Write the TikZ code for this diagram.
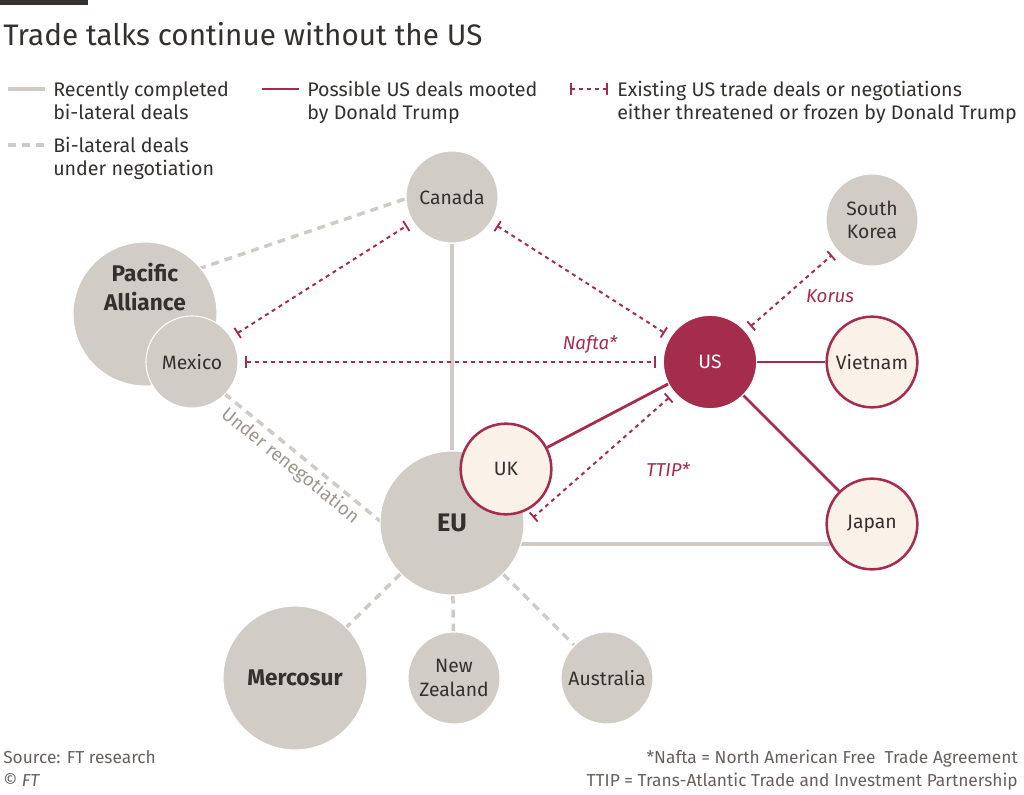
\documentclass[tikz,border=0pt]{standalone}
\usepackage{fontspec}
\setmainfont{Fira Sans}
\usetikzlibrary{arrows.meta,backgrounds,calc}
\definecolor{ink}{HTML}{33302E}
\definecolor{cgray}{HTML}{D1CCC6}
\definecolor{lgray}{HTML}{CFCAC4}
\definecolor{claret}{HTML}{A42D4E}
\definecolor{cream}{HTML}{FAF1E9}
\definecolor{muted}{HTML}{9E968E}
\definecolor{foot}{HTML}{66605C}
\tikzset{
  country/.style={circle, fill=cgray, draw=white, line width=0.8pt, minimum size=69pt,
    inner sep=0pt, text=ink, align=center, font=\fontsize{14.5}{17.5}\selectfont},
  bigcountry/.style={country, minimum size=108pt, font=\fontsize{17}{22}\selectfont\bfseries},
  pick/.style={country, fill=cream, draw=claret, line width=1.9pt, minimum size=68pt},
  usnode/.style={country, fill=claret, draw=white, text=white, minimum size=70pt},
  done/.style={draw=lgray, line width=2.8pt},
  nego/.style={draw=lgray, line width=2.6pt, dash pattern=on 6pt off 4.5pt},
  mooted/.style={draw=claret, line width=2.1pt},
  threat/.style={draw=claret, line width=1.5pt, dash pattern=on 3pt off 3pt,
    {Bar[width=9pt,line width=1.4pt]}-{Bar[width=9pt,line width=1.4pt]},
    shorten <=5pt, shorten >=5pt},
  legtext/.style={anchor=north west, inner sep=0pt, align=left, text=ink,
    font=\fontsize{14.75}{17.5}\selectfont},
  dealtag/.style={text=claret, inner sep=0pt, font=\fontsize{14}{17}\selectfont\itshape},
  foottext/.style={inner sep=0pt, text=foot, font=\fontsize{13}{15}\selectfont},
}
\begin{document}
\begin{tikzpicture}[x=0.75pt,y=-0.75pt]
\useasboundingbox (0,0) rectangle (1024,795);
% top bar and title
\fill[ink] (0,0) rectangle (88,5);
\node[anchor=base west, inner sep=0pt, text=ink, font=\fontsize{22.25}{27}\selectfont] (title) at (3,46) {Trade talks continue without the US};

% legend
\coordinate (la1) at (8,89); \coordinate (lb1) at (45,89);
\coordinate (la2) at (8,145); \coordinate (lb2) at (45,145);
\coordinate (la3) at (262,89); \coordinate (lb3) at (299,89);
\coordinate (la4) at (570,89); \coordinate (lb4) at (608,89);
\draw[done] (la1) -- (lb1);
\draw[nego] (la2) -- (lb2);
\draw[mooted] (la3) -- (lb3);
\draw[threat, shorten <=0pt, shorten >=0pt] (la4) -- (lb4);
\node[legtext] (lt1) at (53,81) {Recently completed\\bi-lateral deals};
\node[legtext] (lt2) at (53,137) {Bi-lateral deals\\under negotiation};
\node[legtext] (lt3) at (307,81) {Possible US deals mooted\\by Donald Trump};
\node[legtext] (lt4) at (617,81) {Existing US trade deals or negotiations\\either threatened or frozen by Donald Trump};

% countries
\node[country] (Canada) at (452,197) {Canada};
\node[country] (SKorea) at (872,220) {South\\Korea};
\node[bigcountry] (PA) at (145,314) {};
\node[inner sep=0pt, align=center, text=ink, font=\fontsize{17}{22}\selectfont\bfseries] (PAlabel) at (145,287) {Pacific\\Alliance};
\node[country] (Mexico) at (192,362) {Mexico};
\node[usnode] (US) at (710,362) {US};
\node[pick] (Vietnam) at (872,362) {Vietnam};
\node[pick] (Japan) at (872,524) {Japan};
\node[bigcountry, font=\fontsize{19}{22}\selectfont\bfseries] (EU) at (452,523) {EU};
\node[pick] (UK) at (506,469) {UK};
\node[bigcountry] (Mercosur) at (295,678) {Mercosur};
\node[country] (NZ) at (454,678) {New\\Zealand};
\node[country] (Australia) at (607,678) {Australia};

% connectors behind the circles
\begin{scope}[on background layer]
\draw[done] (Canada) -- (EU);
\draw[done] ($(EU.center)+(0,21)$) -- ($(Japan.center)+(0,20)$);
\draw[nego] ($(PA.center)+(0,-27)$) -- ($(Canada.center)+(0,-14)$);
\draw[nego] ($(Mexico.center)+(0,5)$) -- ($(EU.center)+(0,57)$);
\draw[nego] (EU) -- (Mercosur);
\draw[nego] (EU) -- (NZ);
\draw[nego] (EU) -- (Australia);
\draw[mooted] (US) -- (UK);
\draw[mooted] (US) -- (Vietnam);
\draw[mooted] (US) -- (Japan);
\end{scope}

% threatened / frozen deals
\coordinate (ttip) at (528,522);
\draw[threat] (Mexico) -- (Canada);
\draw[threat] (Canada) -- (US);
\draw[threat] (Mexico) -- (US);
\draw[threat] (US) -- (SKorea);
\draw[threat] (US.221) -- (ttip);

% deal labels
\node[dealtag] (nafta) at (590,344) {Nafta*};
\node[dealtag] (korus) at (830,296) {Korus};
\node[dealtag] (ttiplabel) at (668,470) {TTIP*};
\node[inner sep=0pt, text=muted, rotate=-39, font=\fontsize{14}{17}\selectfont] (reneg) at (290,466) {Under renegotiation};

% footer
\node[foottext, anchor=base west] (src) at (3,763) {Source: FT research};
\node[foottext, anchor=base west] (copy) at (3,786) {\copyright{} \textit{FT}};
\node[foottext, anchor=base east] (fn1) at (1018,763) {*Nafta = North American Free\ \ Trade Agreement};
\node[foottext, anchor=base east] (fn2) at (1018,786) {TTIP = Trans-Atlantic Trade and Investment Partnership};
\end{tikzpicture}
\end{document}
